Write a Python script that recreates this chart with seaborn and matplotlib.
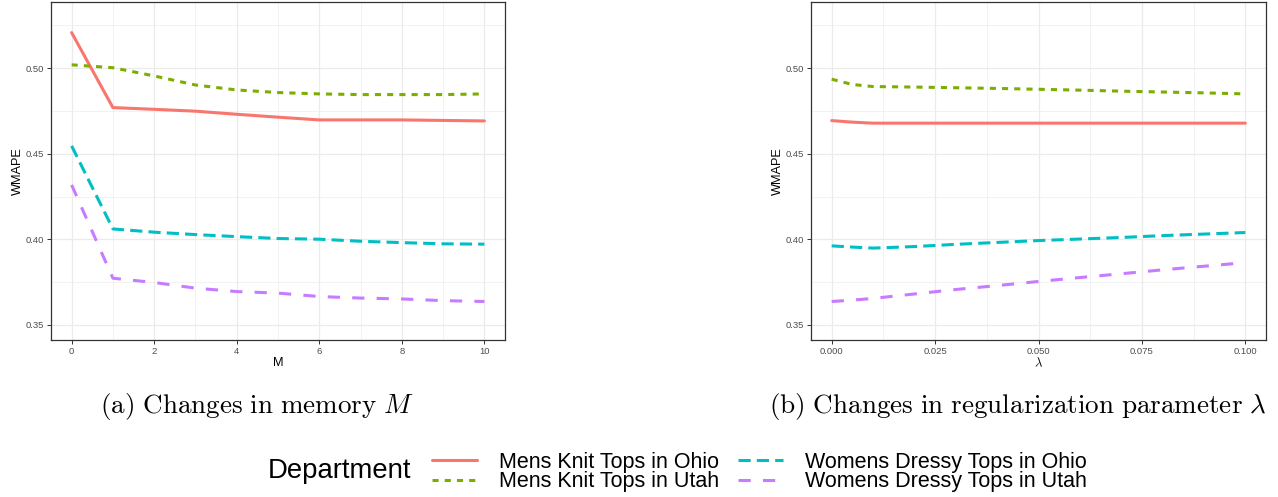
import numpy as np
import pandas as pd
import matplotlib
matplotlib.use("Agg")
import matplotlib.pyplot as plt
import seaborn as sns
from matplotlib.lines import Line2D

# ---- data ----
departments = ["Mens Knit Tops in Ohio", "Mens Knit Tops in Utah",
               "Womens Dressy Tops in Ohio", "Womens Dressy Tops in Utah"]

memory_m = [0, 1, 2, 3, 4, 5, 6, 7, 8, 9, 10]
mem_mens_ohio = [0.5208, 0.4770, 0.4760, 0.4749, 0.4731, 0.4714, 0.4698, 0.4698, 0.4698, 0.4695, 0.4692]
mem_mens_utah = [0.5020, 0.5003, 0.4955, 0.4902, 0.4873, 0.4858, 0.4850, 0.4846, 0.4846, 0.4846, 0.4850]
mem_womens_ohio = [0.4546, 0.4061, 0.4042, 0.4028, 0.4016, 0.4005, 0.4001, 0.3989, 0.3981, 0.3974, 0.3972]
mem_womens_utah = [0.4318, 0.3773, 0.3748, 0.3715, 0.3695, 0.3686, 0.3666, 0.3657, 0.3652, 0.3642, 0.3637]

lambdas = [0.0, 0.005, 0.01, 0.02, 0.03, 0.04, 0.05, 0.06, 0.07, 0.08, 0.09, 0.1]
lam_mens_ohio = [0.4694, 0.4685, 0.4679, 0.4679, 0.4679, 0.4679, 0.4679, 0.4679, 0.4679, 0.4679, 0.4679, 0.4679]
lam_mens_utah = [0.4936, 0.4905, 0.4893, 0.4890, 0.4886, 0.4882, 0.4877, 0.4872, 0.4866, 0.4861, 0.4856, 0.4850]
lam_womens_ohio = [0.3962, 0.3955, 0.3949, 0.3958, 0.3971, 0.3982, 0.3993, 0.4002, 0.4011, 0.4022, 0.4031, 0.4040]
lam_womens_utah = [0.3637, 0.3645, 0.3655, 0.3681, 0.3707, 0.3730, 0.3754, 0.3777, 0.3799, 0.3822, 0.3843, 0.3864]

colors = ["#F8766D", "#7CAE00", "#00BFC4", "#C77CFF"]
dash_styles = ["", (2, 2), (4, 2), (4, 4)]


def long_frame(x, series):
    rows = []
    for dep, vals in zip(departments, series):
        for xv, yv in zip(x, vals):
            rows.append({"x": xv, "WMAPE": yv, "Department": dep})
    return pd.DataFrame(rows)


df_mem = long_frame(memory_m, [mem_mens_ohio, mem_mens_utah, mem_womens_ohio, mem_womens_utah])
df_lam = long_frame(lambdas, [lam_mens_ohio, lam_mens_utah, lam_womens_ohio, lam_womens_utah])

sns.set_theme(style="white")
plt.rcParams["font.family"] = ["Liberation Sans", "DejaVu Sans"]
plt.rcParams["mathtext.fontset"] = "cm"
plt.rcParams["text.color"] = "black"
plt.rcParams["axes.labelcolor"] = "black"

W, H = 1278, 497
fig = plt.figure(figsize=(W / 100, H / 100), dpi=100)
fig.patch.set_facecolor("white")

palette = dict(zip(departments, colors))
dashes = dict(zip(departments, dash_styles))


def px_axes(x0, x1, y0, y1):
    return fig.add_axes([x0 / W, 1 - y1 / H, (x1 - x0) / W, (y1 - y0) / H])


def style_axes(ax, xticks, xminor, xlabels, xlabel, xlim):
    ax.set_ylim(0.3412, 0.5387)
    ax.set_xlim(*xlim)
    ax.set_yticks([0.35, 0.40, 0.45, 0.50])
    ax.set_yticklabels(["0.35", "0.40", "0.45", "0.50"])
    ax.set_yticks([0.375, 0.425, 0.475, 0.525], minor=True)
    ax.set_xticks(xticks)
    ax.set_xticklabels(xlabels)
    ax.set_xticks(xminor, minor=True)
    ax.grid(True, which="major", color="#EBEBEB", lw=0.9)
    ax.grid(True, which="minor", color="#EBEBEB", lw=0.45)
    ax.set_axisbelow(True)
    for s in ax.spines.values():
        s.set_color("#333333")
        s.set_linewidth(0.9)
    ax.tick_params(which="major", length=3, width=0.7, color="#333333",
                   labelsize=6.8, labelcolor="#4D4D4D", pad=2, bottom=True, left=True)
    ax.tick_params(which="minor", length=0)
    ax.set_xlabel(xlabel, fontsize=9.2, labelpad=1)
    ax.set_ylabel("WMAPE", fontsize=9.2, labelpad=1)


ax1 = px_axes(51, 505, 2, 340)
sns.lineplot(data=df_mem, x="x", y="WMAPE", hue="Department", style="Department",
             palette=palette, dashes=dashes, lw=2.2, ax=ax1, legend=False)
style_axes(ax1, [0, 2, 4, 6, 8, 10], [1, 3, 5, 7, 9],
           ["0", "2", "4", "6", "8", "10"], "M", (-0.5, 10.5))

ax2 = px_axes(811, 1266, 2, 340)
sns.lineplot(data=df_lam, x="x", y="WMAPE", hue="Department", style="Department",
             palette=palette, dashes=dashes, lw=2.2, ax=ax2, legend=False)
style_axes(ax2, [0, 0.025, 0.05, 0.075, 0.1], [0.0125, 0.0375, 0.0625, 0.0875],
           ["0.000", "0.025", "0.050", "0.075", "0.100"], r"$\lambda$", (-0.005, 0.105))

# captions
fig.text(257 / W, 1 - 407 / H, r"$\mathrm{(a)\ Changes\ in\ memory\ }M$",
         ha="center", va="center", fontsize=19.5)
fig.text(1018 / W, 1 - 407 / H, r"$\mathrm{(b)\ Changes\ in\ regularization\ parameter\ }\lambda$",
         ha="center", va="center", fontsize=19.5)

# legend
fig.text(268 / W, 1 - 471 / H, "Department", ha="left", va="center", fontsize=19.8)
handles = []
for c, d in zip(colors, dash_styles):
    h = Line2D([], [], color=c, lw=2.2)
    if d:
        h.set_dashes(d)
    handles.append(h)
fig.legend(handles, departments, loc="center left", bbox_to_anchor=(432 / W, 1 - 472 / H),
           ncol=2, frameon=False, fontsize=15.5, handlelength=2.1, handletextpad=1.0,
           columnspacing=0.9, labelspacing=-0.05, borderpad=0, borderaxespad=0)

fig.savefig("out.png", dpi=100, facecolor="white")
